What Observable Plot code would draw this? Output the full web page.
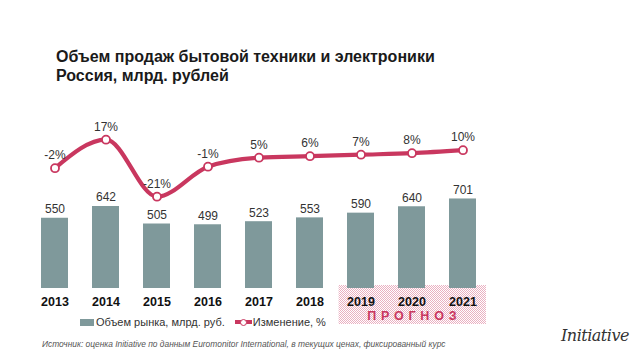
<!DOCTYPE html>
<html>
<head>
<meta charset="utf-8">
<script src="https://cdn.jsdelivr.net/npm/d3@7"></script>
<script src="https://cdn.jsdelivr.net/npm/@observablehq/plot@0.6"></script>
<style>
  html, body { margin: 0; padding: 0; background: #fff; }
  #wrap { position: relative; width: 640px; height: 360px; overflow: hidden; font-family: "Liberation Sans", Arial, sans-serif; }
  #title { position: absolute; left: 56px; top: 47px; font-size: 16px; font-weight: bold; line-height: 19px; color: #1a1a1a; }
  #chart { position: absolute; left: 0; top: 100px; }
  #legend { position: absolute; left: 80px; top: 316px; font-size: 11px; color: #333; display: flex; align-items: center; white-space: nowrap; }
  .sw-bar { display: inline-block; width: 14px; height: 7px; background: #7f999b; margin-right: 2px; }
  .sw-line { display: inline-block; position: relative; width: 17px; height: 7px; margin-left: 10px; margin-right: 1px; }
  .sw-line::before { content: ""; position: absolute; left: 0; right: 0; top: 1.5px; height: 4px; background: #c9375f; }
  .sw-line::after { content: ""; position: absolute; left: 5px; top: 0; width: 5px; height: 5px; border-radius: 50%; background: #fff; border: 1px solid #c9375f; }
  #source { position: absolute; left: 42px; top: 339px; font-size: 8.4px; font-style: italic; color: #555; white-space: nowrap; }
  #logo { position: absolute; left: 561px; top: 326px; font-family: "DejaVu Serif", serif; font-style: italic; font-size: 16px; color: #333; letter-spacing: -0.5px; }
</style>
</head>
<body>
<div id="wrap">
  <div id="title">Объем продаж бытовой техники и электроники<br>Россия, млрд. рублей</div>
  <div id="chart"></div>
  <div id="legend"><span class="sw-bar"></span>Объем рынка, млрд. руб.<span class="sw-line"></span>Изменение, %</div>
  <div id="source">Источник: оценка Initiative по данным Euromonitor International, в текущих ценах, фиксированный курс</div>
  <div id="logo">Initiative</div>
</div>
<script>
const years = ["2013", "2014", "2015", "2016", "2017", "2018", "2019", "2020", "2021"];
const volume = [550, 642, 505, 499, 523, 553, 590, 640, 701];
const change = [-2, 17, -21, -1, 5, 6, 7, 8, 10];
const forecastYears = ["2019", "2020", "2021"];
const forecastLabel = "ПРОГНОЗ";

// secondary axis: map percent change onto the bar value scale
const pctToY = v => 965.5 + 11.75 * v;

const data = years.map((year, i) => ({
  year,
  volume: volume[i],
  change: change[i],
  cy: pctToY(change[i])
}));

const barColor = "#7f999b";
const lineColor = "#c9375f";

const chart = Plot.plot({
  width: 640,
  height: 230,
  marginLeft: 14,
  marginRight: 137,
  marginTop: 0,
  marginBottom: 42,
  x: { type: "band", domain: years, padding: 0.48, label: null },
  y: { domain: [0, 1472], axis: null },
  style: { fontFamily: "Liberation Sans, Arial, sans-serif", background: "transparent", color: "#111", overflow: "visible" },
  marks: [
    Plot.barY(data, { x: "year", y: "volume", fill: barColor }),
    Plot.text(data, { x: "year", y: "volume", text: d => String(d.volume), dy: -9, fontSize: 12, fill: "#333" }),
    Plot.line(data, { x: "year", y: "cy", curve: "monotone-x", stroke: lineColor, strokeWidth: 4.2 }),
    Plot.dot(data, { x: "year", y: "cy", r: 4, fill: "white", stroke: lineColor, strokeWidth: 1.8 }),
    Plot.text(data, { x: "year", y: "cy", text: d => d.change + "%", dy: -13, fontSize: 12, fill: "#333" }),
    Plot.axisX({ tickSize: 0, tickPadding: 9, fontSize: 12.5, fontWeight: "bold", fill: "#111" })
  ]
});

document.getElementById("chart").appendChild(chart);

// forecast hatched area, positioned from the plot's own scales
const xs = chart.scale("x");
const ys = chart.scale("y");
const step = xs.step ?? (xs.bandwidth / (1 - 0.48));
const cx = y => xs.apply(y) + xs.bandwidth / 2;
const fx0 = cx(forecastYears[0]) - step * 0.43;
const fx1 = cx(forecastYears[forecastYears.length - 1]) + step * 0.46;
const base = ys.apply(0);

const svg = d3.select(chart);
const defs = svg.insert("defs", ":first-child");
const pat = defs.append("pattern").attr("id", "hatch").attr("patternUnits", "userSpaceOnUse")
  .attr("width", 2).attr("height", 2);
pat.append("rect").attr("width", 2).attr("height", 2).attr("fill", "#ffffff");
pat.append("rect").attr("x", 0).attr("y", 0).attr("width", 1).attr("height", 1).attr("fill", "#eab0c1");
pat.append("rect").attr("x", 1).attr("y", 1).attr("width", 1).attr("height", 1).attr("fill", "#eab0c1");

const firstG = chart.querySelector("g");
const rect = document.createElementNS("http://www.w3.org/2000/svg", "rect");
rect.setAttribute("x", fx0);
rect.setAttribute("y", base - 3);
rect.setAttribute("width", fx1 - fx0);
rect.setAttribute("height", 39);
rect.setAttribute("fill", "url(#hatch)");
chart.insertBefore(rect, firstG);

svg.append("text")
  .attr("x", (fx0 + fx1) / 2 + 2)
  .attr("y", base + 27.5)
  .attr("dy", "0.35em")
  .attr("text-anchor", "middle")
  .attr("font-size", 12.5)
  .attr("font-weight", "bold")
  .attr("letter-spacing", "4.8px")
  .attr("fill", lineColor)
  .text(forecastLabel);
</script>
</body>
</html>
